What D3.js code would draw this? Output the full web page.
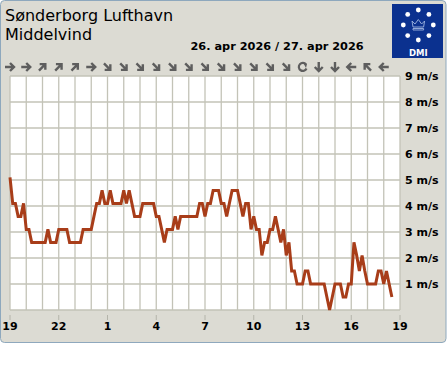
<!DOCTYPE html>
<html>
<head>
<meta charset="utf-8">
<script src="https://cdn.jsdelivr.net/npm/d3@7"></script>
<style>
  body { margin: 0; background: #fff; }
  text { font-family: "DejaVu Sans", sans-serif; }
</style>
</head>
<body>
<svg id="chart" width="447" height="370"></svg>
<script>
// middelvind, one value per 10 minutes from 26 apr 19:00 (m/s)
var speeds = [
  5.1, 4.1, 4.1, 3.6, 3.6, 4.1, 3.1, 3.1, 2.6, 2.6, 2.6, 2.6,
  2.6, 2.6, 3.1, 2.6, 2.6, 2.6, 3.1, 3.1, 3.1, 3.1, 2.6, 2.6,
  2.6, 2.6, 2.6, 3.1, 3.1, 3.1, 3.1, 3.6, 4.1, 4.1, 4.6, 4.1,
  4.1, 4.6, 4.1, 4.1, 4.1, 4.1, 4.6, 4.1, 4.6, 4.1, 3.6, 3.6,
  3.6, 4.1, 4.1, 4.1, 4.1, 4.1, 3.6, 3.6, 3.1, 2.6, 3.1, 3.1,
  3.1, 3.6, 3.1, 3.6, 3.6, 3.6, 3.6, 3.6, 3.6, 3.6, 4.1, 4.1,
  3.6, 4.1, 4.1, 4.6, 4.6, 4.6, 4.1, 4.1, 3.6, 4.1, 4.6, 4.6,
  4.6, 4.1, 3.6, 4.1, 4.1, 3.1, 3.6, 3.1, 3.1, 2.1, 2.6, 2.6,
  3.1, 3.1, 3.6, 3.1, 2.6, 3.1, 2.1, 2.6, 1.5, 1.5, 1.0, 1.0,
  1.0, 1.5, 1.5, 1.0, 1.0, 1.0, 1.0, 1.0, 1.0, 0.5, 0.0, 0.5,
  1.0, 1.0, 1.0, 0.5, 0.5, 1.0, 1.0, 2.6, 2.1, 1.5, 2.1, 1.5,
  1.0, 1.0, 1.0, 1.0, 1.5, 1.5, 1.0, 1.5, 1.0, 0.5
];
var startTime = new Date(2026, 3, 26, 19, 0);
var endTime = new Date(2026, 3, 27, 19, 0);
var stepMinutes = 10;

// wind direction (from, degrees) for each hour, null = variable
var windFrom = [270, 270, 225, 225, 225, 270, 315, 315, 315, 315, 315, 315,
                315, 315, 315, 315, 315, 315, null, 0, 0, 90, 135, 90];

var yTicks = [1, 2, 3, 4, 5, 6, 7, 8, 9];
var xTickOffsets = [0, 3, 6, 9, 12, 15, 18, 21, 24]; // hours after start
var stationName = "Sønderborg Lufthavn";
var paramName = "Middelvind";
var dateLabel = "26. apr 2026 / 27. apr 2026";

var svg = d3.select("#chart");

var x = d3.scaleTime().domain([startTime, endTime]).range([10, 400]);
var y = d3.scaleLinear().domain([0, 9]).range([310, 76]);

// panel
svg.append("rect")
  .attr("x", 0.5).attr("y", 0.5)
  .attr("width", 445.5).attr("height", 342)
  .attr("rx", 4)
  .style("fill", "#dcdbd3")
  .style("stroke", "#8ea8bd")
  .style("stroke-width", 1);

// titles
svg.append("text").attr("x", 5).attr("y", 20.5)
  .style("font-size", "16px").text(stationName);
svg.append("text").attr("x", 5).attr("y", 40)
  .style("font-size", "16px").text(paramName);
svg.append("text").attr("x", 190.5).attr("y", 50)
  .style("font-size", "11.3px").style("font-weight", "bold").text(dateLabel);

// DMI logo
var logo = svg.append("g");
logo.append("rect").attr("x", 392).attr("y", 4).attr("width", 51).attr("height", 54)
  .style("fill", "#0b318f");
var cx = 418.3, cy = 25;
for (var k = 0; k < 8; k++) {
  var a = k * Math.PI / 4;
  logo.append("circle")
    .attr("cx", cx + 15 * Math.sin(a))
    .attr("cy", cy - 15 * Math.cos(a))
    .attr("r", 2.4)
    .style("fill", "#fff");
}
logo.append("path")
  .attr("d", "M413,27 L412,21 L415,24 L418.3,19.5 L421.6,24 L424.6,21 L423.6,27 Z M413,28.5 L423.6,28.5 L423.6,30 L413,30 Z")
  .style("fill", "none").style("stroke", "#9fb6e0").style("stroke-width", 0.9);
logo.append("text").attr("x", 418.3).attr("y", 56)
  .attr("text-anchor", "middle")
  .style("font-size", "8.5px").style("font-weight", "bold").style("fill", "#fff")
  .text("DMI");

// plot background
svg.append("rect").attr("x", 10).attr("y", 76).attr("width", 390).attr("height", 234)
  .style("fill", "#fff");

// grid
var hours = d3.range(0, 25).map(function(h) { return d3.timeHour.offset(startTime, h); });
svg.append("g").selectAll("line").data(hours).enter().append("line")
  .attr("x1", function(d) { return x(d); }).attr("x2", function(d) { return x(d); })
  .attr("y1", 76).attr("y2", 310)
  .style("stroke", "#c3c3b7").style("stroke-width", 1.3);
svg.append("g").selectAll("line").data([0].concat(yTicks)).enter().append("line")
  .attr("x1", 10).attr("x2", 400)
  .attr("y1", function(d) { return y(d); }).attr("y2", function(d) { return y(d); })
  .style("stroke", "#c3c3b7").style("stroke-width", 1.3);

// y labels
svg.append("g").selectAll("text").data(yTicks).enter().append("text")
  .attr("x", 405).attr("y", function(d) { return y(d) + 4; })
  .style("font-size", "11px").style("font-weight", "bold")
  .text(function(d) { return d + " m/s"; });

// x axis ticks + labels
var xTicks = xTickOffsets.map(function(h) { return d3.timeHour.offset(startTime, h); });
svg.append("g").selectAll("line").data(xTicks).enter().append("line")
  .attr("x1", function(d) { return x(d); }).attr("x2", function(d) { return x(d); })
  .attr("y1", 315).attr("y2", 320)
  .style("stroke", "#b4b4aa").style("stroke-width", 1);
svg.append("g").selectAll("text").data(xTicks).enter().append("text")
  .attr("x", function(d) { return x(d); }).attr("y", 330)
  .attr("text-anchor", "middle")
  .style("font-size", "11px").style("font-weight", "bold")
  .text(d3.timeFormat("%-H"));

// wind arrows
var arrows = svg.append("g");
windFrom.forEach(function(dir, i) {
  var ax = x(d3.timeHour.offset(startTime, i)), ay = 67;
  var g = arrows.append("g").attr("transform", "translate(" + ax + "," + ay + ")");
  if (dir === null) {
    g.append("path")
      .attr("d", "M3.5,-2.5 A4,4 0 1 0 4,1.5")
      .style("fill", "none").style("stroke", "#5e5e5e").style("stroke-width", 2.2);
    g.append("path")
      .attr("d", "M0.5,-4.5 L4.5,-3 L3.5,1 Z")
      .style("fill", "#5e5e5e");
  } else {
    g.append("path")
      .attr("transform", "rotate(" + ((dir + 180) % 360) + ")")
      .attr("d", "M0,5 L0,-4 M-4,0 L0,-4 L4,0")
      .style("fill", "none").style("stroke", "#5e5e5e").style("stroke-width", 2.4);
  }
});

// speed line
var line = d3.line()
  .x(function(d, i) { return x(d3.timeMinute.offset(startTime, i * stepMinutes)); })
  .y(function(d) { return y(d); });
svg.append("path").datum(speeds)
  .attr("d", line)
  .style("fill", "none")
  .style("stroke", "#a83d19")
  .style("stroke-width", 3);
</script>
</body>
</html>
